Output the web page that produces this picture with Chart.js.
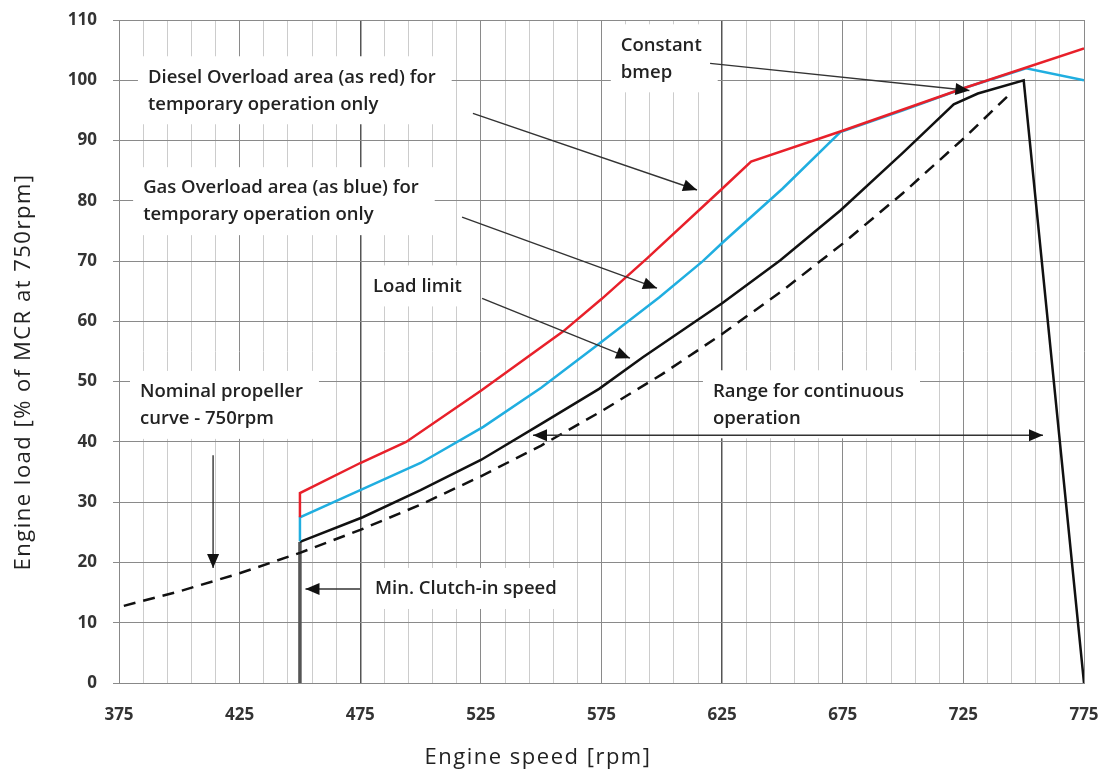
<!DOCTYPE html>
<html>
<head>
<meta charset="utf-8">
<script src="https://cdn.jsdelivr.net/npm/chart.js@4/dist/chart.umd.min.js"></script>
<style>
  body { margin: 0; background: #fff; }
  #wrap { width: 1120px; height: 774px; }
</style>
</head>
<body>
<div id="wrap"><canvas id="engineChart" width="1120" height="774"></canvas></div>
<script>
// Values (rpm / % load)
const dieselRpm  = [450, 450, 475, 494, 525, 559, 575, 594, 625, 637, 674, 726, 775];
const dieselLoad = [27.5, 31.5, 36.5, 40, 48.5, 58.3, 63.7, 70.5, 82, 86.5, 91.5, 98.8, 105.3];

const gasRpm  = [450, 450, 475, 500, 526, 550, 574, 599, 617, 625, 650, 674, 700, 726, 751, 775];
const gasLoad = [23.5, 27.5, 32, 36.5, 42.5, 49, 56.3, 64, 70, 73, 82, 91.4, 95, 98.8, 102, 100];

const limitRpm  = [450, 476, 500, 525, 550, 574, 592, 625, 649, 674, 700, 721, 731, 750, 775];
const limitLoad = [23.4, 27.5, 32, 37, 43, 48.8, 54, 63, 70.1, 78.4, 88, 96, 97.8, 100, 0];

const propRpm  = [377, 400, 425, 450, 475, 500, 525, 550, 575, 600, 625, 650, 675, 700, 725, 745];
const propLoad = [12.8, 15.2, 18.2, 21.6, 25.4, 29.6, 34.3, 39.4, 45.1, 51.2, 57.9, 65.1, 72.9, 81.3, 90.3, 98];

const clutchRpm  = [450, 450];
const clutchLoad = [0, 23.4];

const xTickLabels = [375, 425, 475, 525, 575, 625, 675, 725, 775];
const yTickLabels = [0, 10, 20, 30, 40, 50, 60, 70, 80, 90, 100, 110];

const xTitle = 'Engine speed [rpm]';
const yTitle = 'Engine load [% of MCR at 750rpm]';

// text notes with arrows (positions in rpm / load units)
const notes = [
  { lines: ['Constant', 'bmep'], x: 583, y: 105.8, from: [620, 102.8], to: [727.5, 98.3] },
  { lines: ['Diesel Overload area (as red) for', 'temporary operation only'], x: 387, y: 100.5, from: [521.7, 94.5], to: [614.6, 81.8] },
  { lines: ['Gas Overload area (as blue) for', 'temporary operation only'], x: 385, y: 82.1, from: [517.2, 77.3], to: [598, 65.5] },
  { lines: ['Load limit'], x: 480.3, y: 65.8, from: [525.5, 63.8], to: [586.8, 53.9] },
  { lines: ['Nominal propeller', 'curve - 750rpm'], x: 383.7, y: 48.3, from: [414, 37.8], to: [414, 19.1] },
  { lines: ['Min. Clutch-in speed'], x: 481.1, y: 15.6, from: [474.9, 15.6], to: [452.3, 15.6] },
  { lines: ['Range for continuous', 'operation'], x: 621.2, y: 48.4, from: [546.6, 41.1], to: [758, 41.1], both: true }
];

function pairs(xs, ys) {
  return xs.map((x, i) => ({ x: x, y: ys[i] }));
}

const noteFont = '600 18.5px "Open Sans"';
const lineGap = 27;

function arrowHead(ctx, x1, y1, x2, y2) {
  const a = Math.atan2(y2 - y1, x2 - x1);
  const len = 14, half = 6;
  ctx.beginPath();
  ctx.moveTo(x2, y2);
  ctx.lineTo(x2 - len * Math.cos(a) + half * Math.sin(a), y2 - len * Math.sin(a) - half * Math.cos(a));
  ctx.lineTo(x2 - len * Math.cos(a) - half * Math.sin(a), y2 - len * Math.sin(a) + half * Math.cos(a));
  ctx.closePath();
  ctx.fill();
}

const notePlugin = {
  id: 'notes',
  beforeDatasetsDraw(chart) {
    const ctx = chart.ctx;
    const xs = chart.scales.x, ys = chart.scales.y;
    ctx.save();
    ctx.font = noteFont;
    ctx.fillStyle = '#fff';
    notes.forEach(n => {
      const px = xs.getPixelForValue(n.x);
      const py = ys.getPixelForValue(n.y);
      const w = Math.max(...n.lines.map(l => ctx.measureText(l).width));
      const h = (n.lines.length - 1) * lineGap;
      ctx.fillRect(px - 10, py - 21, w + 26, h + 41);
    });
    ctx.restore();
  },
  afterDatasetsDraw(chart) {
    const ctx = chart.ctx;
    const xs = chart.scales.x, ys = chart.scales.y;
    ctx.save();
    ctx.font = noteFont;
    ctx.textBaseline = 'middle';
    ctx.textAlign = 'left';
    notes.forEach(n => {
      const px = xs.getPixelForValue(n.x);
      const py = ys.getPixelForValue(n.y);
      ctx.fillStyle = '#222';
      n.lines.forEach((l, i) => ctx.fillText(l, px, py + i * lineGap));

      const x1 = xs.getPixelForValue(n.from[0]), y1 = ys.getPixelForValue(n.from[1]);
      const x2 = xs.getPixelForValue(n.to[0]), y2 = ys.getPixelForValue(n.to[1]);
      ctx.strokeStyle = '#333';
      ctx.fillStyle = '#111';
      ctx.lineWidth = 1.4;
      ctx.beginPath();
      ctx.moveTo(x1, y1);
      ctx.lineTo(x2, y2);
      ctx.stroke();
      arrowHead(ctx, x1, y1, x2, y2);
      if (n.both) arrowHead(ctx, x2, y2, x1, y1);
    });
    ctx.restore();
  },
  afterDraw(chart) {
    // axis titles, placed like in the source figure
    const ctx = chart.ctx;
    ctx.save();
    ctx.font = '22px "Open Sans"';
    ctx.letterSpacing = '1.5px';
    ctx.fillStyle = '#222';
    ctx.textAlign = 'center';
    ctx.textBaseline = 'middle';
    ctx.fillText(xTitle, 538, 758);
    ctx.translate(24, 372);
    ctx.rotate(-Math.PI / 2);
    ctx.fillText(yTitle, 0, 0);
    ctx.restore();
  }
};

function xGridColor(c) {
  const v = c.tick.value;
  if (v === 475 || v === 625) return '#555';
  if ((v - 375) % 50 === 0) return '#8a8a8a';
  return '#cccccc';
}

const ctx = document.getElementById('engineChart').getContext('2d');
new Chart(ctx, {
  type: 'line',
  data: {
    datasets: [
      { label: 'Diesel overload', data: pairs(dieselRpm, dieselLoad), borderColor: '#e8202a', borderWidth: 2.5 },
      { label: 'Gas overload', data: pairs(gasRpm, gasLoad), borderColor: '#20aee0', borderWidth: 2.5 },
      { label: 'Load limit', data: pairs(limitRpm, limitLoad), borderColor: '#111', borderWidth: 2.5 },
      { label: 'Propeller curve', data: pairs(propRpm, propLoad), borderColor: '#111', borderWidth: 2.5, borderDash: [12, 8] },
      { label: 'Min. clutch-in', data: pairs(clutchRpm, clutchLoad), borderColor: '#555', borderWidth: 3.5 }
    ]
  },
  options: {
    responsive: false,
    animation: false,
    devicePixelRatio: 1,
    layout: { padding: { top: 20, right: 36, left: 0, bottom: 0 } },
    elements: { point: { radius: 0 }, line: { tension: 0, fill: false } },
    plugins: { legend: { display: false }, tooltip: { enabled: false } },
    scales: {
      x: {
        type: 'linear',
        min: 375,
        max: 775,
        afterBuildTicks: s => {
          const t = [];
          for (let v = 375; v <= 775; v += 10) t.push({ value: v });
          s.ticks = t;
        },
        afterFit: s => { s.height = 91; s.paddingLeft = 0; s.paddingRight = 0; },
        grid: { color: xGridColor, lineWidth: c => (c.tick.value === 475 || c.tick.value === 625) ? 1.5 : 1, drawTicks: false },
        border: { color: '#888' },
        ticks: {
          padding: 22,
          autoSkip: false,
          maxRotation: 0,
          color: '#333',
          font: { family: 'Open Sans', size: 17, weight: 'bold' },
          callback: v => xTickLabels.includes(v) ? String(v) : ''
        }
      },
      y: {
        min: 0,
        max: 110,
        afterBuildTicks: s => { s.ticks = yTickLabels.map(v => ({ value: v })); },
        afterFit: s => { s.width = 119; s.paddingTop = 0; s.paddingBottom = 0; },
        grid: { color: '#8a8a8a', tickLength: 6 },
        border: { color: '#888' },
        ticks: {
          padding: 16,
          color: '#333',
          font: { family: 'Open Sans', size: 17, weight: 'bold' }
        }
      }
    }
  },
  plugins: [notePlugin]
});
</script>
</body>
</html>
